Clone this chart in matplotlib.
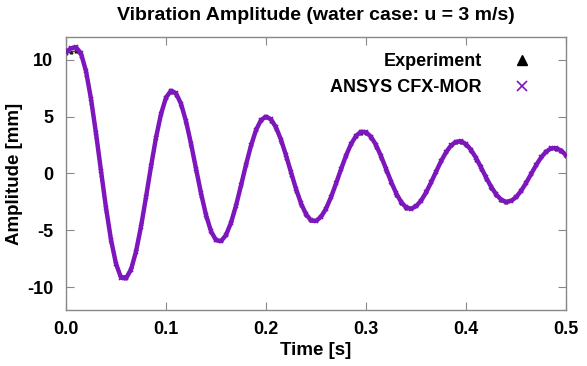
import matplotlib
matplotlib.use("Agg")
import matplotlib.pyplot as plt
import numpy as np

plt.rcParams['font.family'] = ['Liberation Sans', 'DejaVu Sans']
plt.rcParams['font.weight'] = 'bold'
plt.rcParams['axes.unicode_minus'] = False

# time axis [s], read every 5 ms
time = np.round(np.arange(0, 101) * 0.005, 3)

# ANSYS CFX-MOR amplitude [mm]
mor = [10.7, 11.0, 11.1, 10.56, 9.0, 6.57, 3.54, 0.24, -3.0, -5.82,
       -7.93, -9.15, -9.23, -8.45, -6.87, -4.67, -2.09, 0.62, 3.15, 5.23,
       6.67, 7.28, 7.06, 6.13, 4.59, 2.62, 0.43, -1.74, -3.65, -5.08,
       -5.87, -5.95, -5.41, -4.32, -2.82, -1.05, 0.78, 2.46, 3.82, 4.70,
       5.0, 4.76, 4.05, 2.96, 1.59, 0.10, -1.36, -2.63, -3.58, -4.13,
       -4.17, -3.81, -3.09, -2.07, -0.88, 0.38, 1.58, 2.59, 3.31, 3.67,
       3.63, 3.22, 2.50, 1.52, 0.41, -0.71, -1.72, -2.50, -2.98, -3.10,
       -2.88, -2.39, -1.67, -0.79, 0.16, 1.08, 1.87, 2.47, 2.79, 2.83,
       2.58, 2.07, 1.36, 0.53, -0.35, -1.16, -1.83, -2.30, -2.49, -2.41,
       -2.08, -1.53, -0.83, -0.05, 0.73, 1.41, 1.92, 2.21, 2.23, 2.02,
       1.60]

# experiment amplitude [mm]
experiment = [10.6, 10.65, 10.8, 10.3, 8.7, 6.2, 3.2, -0.1, -3.3, -6.0,
              -8.0, -9.0, -9.0, -8.2, -6.6, -4.3, -1.8, 0.9, 3.4, 5.4,
              6.7, 7.2, 6.9, 5.9, 4.4, 2.4, 0.2, -2.0, -3.8, -5.1,
              -5.8, -5.85, -5.3, -4.15, -2.6, -0.85, 0.95, 2.6, 3.9, 4.7,
              4.95, 4.65, 3.9, 2.8, 1.4, -0.1, -1.5, -2.75, -3.65, -4.1,
              -4.05, -3.65, -2.9, -1.9, -0.7, 0.55, 1.7, 2.65, 3.3, 3.6,
              3.55, 3.1, 2.35, 1.35, 0.25, -0.85, -1.85, -2.6, -3.0, -3.05,
              -2.8, -2.25, -1.5, -0.6, 0.3, 1.2, 1.95, 2.5, 2.78, 2.78,
              2.5, 1.95, 1.22, 0.4, -0.48, -1.28, -1.92, -2.35, -2.48, -2.35,
              -2.0, -1.42, -0.7, 0.08, 0.85, 1.5, 1.97, 2.2, 2.18, 1.95,
              1.5]

purple = '#7d16bc'

fig = plt.figure(figsize=(5.87, 3.66), dpi=100)
ax = fig.add_axes([0.1124, 0.153, 0.852, 0.746])

# experiment (black triangles) under the model curve
ax.plot(time, experiment, '-', color='#444444', lw=1.0, zorder=2)
ax.plot(time, experiment, '^', color='#222222', ms=2.0, ls='none',
        zorder=2, label='Experiment')

# model (purple crosses)
ax.plot(time, mor, '-', color=purple, lw=3.2, zorder=3)
ax.plot(time, mor, 'x', color=purple, ms=3, mew=1.2, ls='none',
        zorder=3, label='ANSYS CFX-MOR')

ax.set_xlim(0, 0.5)
ax.set_ylim(-12, 12)
ax.set_xticks([0.0, 0.1, 0.2, 0.3, 0.4, 0.5])
ax.set_xticklabels(['0.0', '0.1', '0.2', '0.3', '0.4', '0.5'])
ax.set_yticks([-10, -5, 0, 5, 10])
ax.tick_params(direction='in', length=6, width=0.8, color='#888888',
               top=True, right=True, labelsize=13)
ax.tick_params(axis='y', pad=9)
ax.tick_params(axis='x', pad=8)
for s in ax.spines.values():
    s.set_color('#888888')
    s.set_linewidth(1.0)

ax.set_title('Vibration Amplitude (water case: u = 3 m/s)',
             fontsize=14, fontweight='bold', pad=12)
ax.set_xlabel('Time [s]', fontsize=13.5, fontweight='bold', labelpad=3)
ax.set_ylabel('Amplitude [mm]', fontsize=13.5, fontweight='bold', labelpad=3)

# legend entries: markers only, text to the left of the marker
handles, labels = ax.get_legend_handles_labels()
leg = ax.legend(handles, labels, loc='upper right', bbox_to_anchor=(0.962, 1.0),
                frameon=False, markerfirst=False, handlelength=1.0,
                handletextpad=1.7, markerscale=2.6, labelspacing=0.5,
                prop={'weight': 'bold', 'size': 13})
leg.legend_handles[0].set_markersize(7)
leg.legend_handles[0].set_color('black')

fig.savefig('out.png', dpi=100)
